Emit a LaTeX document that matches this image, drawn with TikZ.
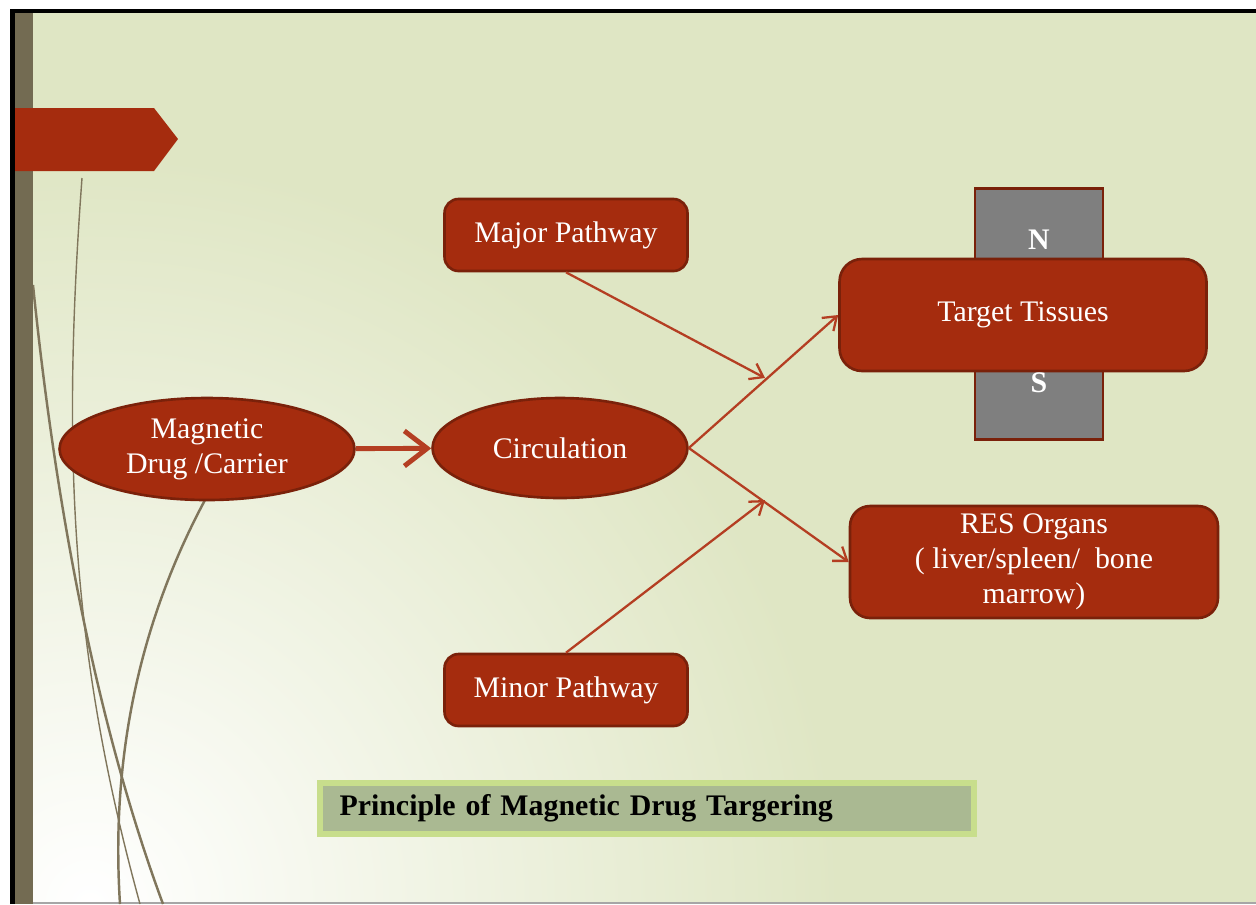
\documentclass[tikz,border=0pt]{standalone}
\usepackage{fontspec}
\setmainfont{Liberation Serif}
\usetikzlibrary{arrows.meta,shapes.geometric}
\definecolor{slidebg}{RGB}{223,230,196}
\definecolor{boxred}{RGB}{165,44,14}
\definecolor{rimred}{RGB}{122,33,10}
\definecolor{linkred}{RGB}{180,62,34}
\definecolor{stripolive}{RGB}{115,107,82}
\definecolor{curveolive}{RGB}{128,118,92}
\definecolor{magnetgray}{RGB}{127,127,127}
\definecolor{capfill}{RGB}{170,185,146}
\definecolor{capglow}{RGB}{200,222,140}

\begin{document}
\begin{tikzpicture}[x=0.02cm,y=-0.02cm,
  redbox/.style={rectangle,rounded corners=0.28cm,draw=rimred,line width=1.5pt,fill=boxred,
    text=white,font=\fontsize{17}{20}\selectfont,align=center,inner sep=0pt},
  redoval/.style={ellipse,draw=rimred,line width=1.5pt,fill=boxred,
    text=white,font=\fontsize{17}{20}\selectfont,align=center,inner sep=0pt},
  pole/.style={text=white,font=\bfseries\fontsize{17}{20}\selectfont},
  link/.style={draw=linkred,line width=1.3pt,->,>={Straight Barb[length=7pt,width=10pt]}},
  curve/.style={draw=curveolive,line width=1.4pt}]
\useasboundingbox (0,0) rectangle (1256,904);
\fill[white] (0,0) rectangle (1256,904);

% slide background
\fill[slidebg] (15,13) rectangle (1256,902);
\begin{scope}
\clip (15,13) rectangle (1256,902);
\shade[inner color=white,outer color=slidebg] (90,904) circle (750);
\end{scope}
\draw[gray!70,line width=0.04cm] (15,903) -- (1256,903);

% decoration on the left
\draw[curve,line width=0.8pt] (82,178) .. controls (62,450) and (70,650) .. (140,904);
\draw[curve] (33,285) .. controls (55,500) and (95,720) .. (163,904);
\draw[curve] (205,500) .. controls (130,640) and (112,780) .. (120,904);
\fill[stripolive] (15,13) rectangle (33,904);
\fill[boxred] (15,108) -- (154,108) -- (178,139) -- (154,171) -- (15,171) -- cycle;
\draw[black,line width=0.09cm] (12.5,904) -- (12.5,11) -- (1256,11);

\path (566,235) node[redbox,minimum width=4.86cm,minimum height=1.44cm] (major) {Major Pathway};
\path (566,690) node[redbox,minimum width=4.86cm,minimum height=1.44cm] (minor) {Minor Pathway};
\path (207,449) node[redoval,minimum width=5.9cm,minimum height=2.04cm] (drug) {Magnetic\\Drug /Carrier};
\path (560,448) node[redoval,minimum width=5.1cm,minimum height=2cm] (circ) {Circulation};

\path (1039,314) node[rectangle,draw=rimred,line width=1.5pt,fill=magnetgray,
  minimum width=2.56cm,minimum height=5.02cm] (magnet) {};
\path (1023,315) node[redbox,rounded corners=0.45cm,minimum width=7.34cm,minimum height=2.24cm] (target) {Target Tissues};
\path (1039,240) node[pole] (north) {N};
\path (1039,383) node[pole] (south) {S};

\path (1034,562) node[redbox,rounded corners=0.4cm,minimum width=7.36cm,minimum height=2.24cm] (res)
  {RES Organs\\( liver/spleen/~~bone\\marrow)};

\path (647,808) node[rectangle,fill=capfill,draw=capglow,line width=0.12cm,minimum height=1.02cm,
  text width=12.3cm,inner xsep=0.4cm,align=left,font=\bfseries\fontsize{17}{20}\selectfont] (caption)
  {Principle of Magnetic Drug Targering};

\coordinate (majend) at (765,378);
\coordinate (minend) at (765,500);
\draw[link,line width=2.8pt,>={Straight Barb[length=13pt,width=20pt]}] (drug) -- (circ);
\draw[link] (major.south) -- (majend);
\draw[link] (minor.north) -- (minend);
\draw[link] (circ.east) -- (target.west);
\draw[link] (circ.east) -- (res.west);
\end{tikzpicture}
\end{document}
